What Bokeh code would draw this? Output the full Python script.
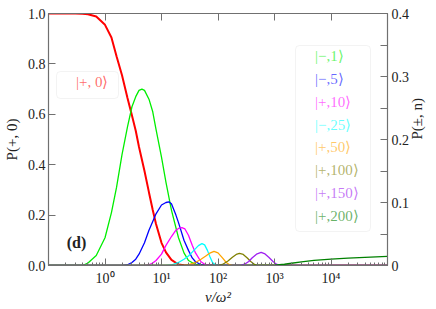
import math
from bokeh.plotting import figure
from bokeh.models import (Range1d, LinearAxis, LogAxis, FixedTicker, CustomJSTickFormatter,
                          Legend, LegendItem, Label, BoxAnnotation)
from bokeh.embed import file_html
from bokeh.resources import INLINE

FONT = "Liberation Serif"
AX = "#707070"
TXT = "#222222"

# ---------------- data ----------------
# P(+,0) on the left axis
x_red = [0.1, 0.2, 0.3, 0.4, 0.5, 0.7, 1.0, 1.3, 1.6, 2.0, 2.5, 3.0, 3.5, 4.0, 5.0, 6.0,
         7.0, 8.0, 10, 12, 15, 20, 25, 30, 1e5]
y_red = [1.0, 1.0, 1.0, 0.999, 0.997, 0.988, 0.955, 0.905, 0.83, 0.755, 0.665, 0.595, 0.535,
         0.47, 0.375, 0.29, 0.22, 0.165, 0.09, 0.052, 0.022, 0.004, 0.001, 0.0, 0.0]

# P(+-,n) on the right axis
x_m1 = [0.1, 0.4, 0.5, 0.7, 1.0, 1.3, 1.6, 2.0, 2.5, 3.0, 3.5, 4.0, 4.5, 5.0, 6.0, 7.0,
        8.0, 10, 12, 15, 20, 25, 30, 40, 50, 1e5]
y_m1 = [0, 0, 0.004, 0.016, 0.044, 0.084, 0.124, 0.176, 0.22, 0.252, 0.268, 0.278, 0.28,
        0.278, 0.264, 0.244, 0.216, 0.172, 0.132, 0.088, 0.044, 0.02, 0.008, 0.0016, 0, 0]

x_m5 = [0.1, 2, 2.5, 3, 3.5, 4, 5, 6, 7, 8, 10, 12, 13.5, 15, 18, 20, 25, 30, 35, 40, 50, 60, 1e5]
y_m5 = [0, 0, 0.0012, 0.0048, 0.01, 0.018, 0.036, 0.056, 0.07, 0.082, 0.096, 0.1, 0.101,
        0.098, 0.08, 0.068, 0.04, 0.024, 0.012, 0.006, 0.0012, 0, 0]

x_p10 = [0.1, 5, 6, 7, 8, 10, 12, 15, 18, 20, 23, 26, 30, 35, 40, 50, 60, 70, 1e5]
y_p10 = [0, 0, 0.0012, 0.004, 0.008, 0.018, 0.032, 0.046, 0.056, 0.0588, 0.06, 0.058,
         0.048, 0.032, 0.02, 0.006, 0.0012, 0, 0]

x_m25 = [0.1, 12, 15, 20, 25, 30, 35, 40, 45, 52, 58, 65, 72, 80, 90, 100, 1e5]
y_m25 = [0, 0, 0.0008, 0.0048, 0.01, 0.0152, 0.0212, 0.0268, 0.0316, 0.0348, 0.0328,
         0.024, 0.014, 0.0048, 0.0008, 0, 0]

x_p50 = [0.1, 25, 30, 40, 50, 60, 70, 85, 100, 120, 140, 160, 180, 1e5]
y_p50 = [0, 0, 0.0012, 0.0048, 0.01, 0.0148, 0.0192, 0.0224, 0.02, 0.012, 0.0048, 0.0012, 0, 0]

x_p100 = [0.1, 100, 120, 150, 180, 210, 240, 280, 330, 380, 450, 500, 1e5]
y_p100 = [0, 0, 0.0016, 0.0072, 0.0132, 0.0176, 0.0192, 0.0176, 0.012, 0.0064, 0.0012, 0, 0]

x_p150 = [0.1, 250, 300, 350, 400, 480, 580, 680, 800, 950, 1100, 1300, 1e5]
y_p150 = [0, 0, 0.0024, 0.0064, 0.012, 0.018, 0.0208, 0.0184, 0.0128, 0.006, 0.0016, 0, 0]

x_p200 = [0.1, 500, 1000, 1500, 2000, 3000, 5000, 10000, 20000, 50000, 100000]
y_p200 = [0, 0, 0.0004, 0.002, 0.0036, 0.0056, 0.008, 0.01, 0.0116, 0.0132, 0.0144]

labels = ["|\u2212,1\u27e9", "|\u2212,5\u27e9", "|+,10\u27e9", "|\u2212,25\u27e9", "|+,50\u27e9",
          "|+,100\u27e9", "|+,150\u27e9", "|+,200\u27e9"]
colors = ["#00ee00", "#0000ff", "#ff00ff", "#00ffff", "#ffa500", "#808000", "#a020f0", "#008000"]
xs_all = [x_m1, x_m5, x_p10, x_m25, x_p50, x_p100, x_p150, x_p200]
ys_all = [y_m1, y_m5, y_p10, y_m25, y_p50, y_p100, y_p150, y_p200]

x_ticks = [1, 10, 100, 1000, 10000]
x_minor = [m * 10.0 ** e for e in range(-1, 5) for m in range(2, 10)]
yl_ticks = [0, 0.2, 0.4, 0.6, 0.8, 1.0]
yr_ticks = [0, 0.1, 0.2, 0.3, 0.4]
yr_minor = [0.05, 0.15, 0.25, 0.35]

# ---------------- figure ----------------
p = figure(width=436, height=309, x_axis_type="log", x_range=Range1d(0.1, 1e5),
           y_range=Range1d(0, 1), output_backend="svg", toolbar_location=None,
           min_border_left=48, min_border_right=48, min_border_top=13, min_border_bottom=44)
p.extra_y_ranges = {"r": Range1d(0, 0.4)}
p.xgrid.visible = False
p.ygrid.visible = False
p.outline_line_color = AX
p.background_fill_color = "white"
p.border_fill_color = "white"


def style_axis(ax, label_size="14px"):
    ax.axis_line_color = AX
    ax.axis_line_width = 1.2
    ax.major_tick_line_color = AX
    ax.minor_tick_line_color = AX
    ax.major_tick_in = 7
    ax.major_tick_out = 0
    ax.minor_tick_in = 3
    ax.minor_tick_out = 0
    ax.major_label_text_font = FONT
    ax.major_label_text_font_size = label_size
    ax.major_label_text_color = TXT
    ax.axis_label_text_font = FONT
    ax.axis_label_text_font_size = "15px"
    ax.axis_label_text_color = TXT
    ax.axis_label_text_font_style = "normal"


# bottom axis
xa = p.xaxis[0]
style_axis(xa)
xa.ticker = FixedTicker(ticks=x_ticks, minor_ticks=x_minor)
xa.formatter = CustomJSTickFormatter(code="""
const sup = {"-":"\u207b","0":"\u2070","1":"\u00b9","2":"\u00b2","3":"\u00b3","4":"\u2074","5":"\u2075"};
const e = Math.round(Math.log10(tick));
return "10" + String(e).split("").map(c => sup[c]).join("");
""")
xa.major_label_standoff = 5
xa.axis_label = "v/\u03c9\u00b2"
xa.axis_label_text_font_style = "italic"
xa.axis_label_standoff = 0

# top axis (ticks only)
ta = LogAxis(ticker=FixedTicker(ticks=x_ticks))
style_axis(ta)
ta.minor_tick_line_color = None
ta.major_label_text_font_size = "1px"
ta.formatter = CustomJSTickFormatter(code="return '';")
ta.major_label_standoff = 0
p.add_layout(ta, "above")

# left axis
ya = p.yaxis[0]
style_axis(ya)
ya.ticker = FixedTicker(ticks=yl_ticks)
ya.minor_tick_line_color = None
ya.formatter = CustomJSTickFormatter(code="return tick.toFixed(1);")
ya.major_label_standoff = 3
ya.axis_label = "P(+, 0)"
ya.axis_label_standoff = 5

# right axis
ra = LinearAxis(y_range_name="r", ticker=FixedTicker(ticks=yr_ticks, minor_ticks=yr_minor))
style_axis(ra)
ra.minor_tick_in = 7
ra.formatter = CustomJSTickFormatter(code="return tick == 0 ? '0' : tick.toFixed(1);")
ra.major_label_standoff = 4
ra.axis_label = "P(\u00b1, n)"
ra.axis_label_standoff = 5
if "axis_label_orientation" in ra.properties():
    ra.axis_label_orientation = math.pi / 2
p.add_layout(ra, "right")

# curves
p.line(x_red, y_red, line_color="#ff0000", line_width=2)
for xs, ys, c in zip(xs_all, ys_all, colors):
    p.line(xs, ys, line_color=c, line_width=1.3, y_range_name="r")

# legend boxes
p.add_layout(BoxAnnotation(left=8, right=70, top=194, bottom=167,
                           left_units="screen", right_units="screen",
                           top_units="screen", bottom_units="screen",
                           fill_color="white", fill_alpha=0.85,
                           line_color="#d8d8d8", line_width=1, border_radius=4))
p.add_layout(BoxAnnotation(left=247, right=322, top=220, bottom=34,
                           left_units="screen", right_units="screen",
                           top_units="screen", bottom_units="screen",
                           fill_color="white", fill_alpha=0.85,
                           line_color="#d8d8d8", line_width=1, border_radius=4))


def add_legend(label, color, lx, cy):
    proxy = p.line(x=[], y=[], line_color=color, line_width=2)
    leg = Legend(items=[LegendItem(label=label, renderers=[proxy])],
                 location=(lx, cy - 8), padding=0, margin=0, spacing=0,
                 glyph_width=8, glyph_height=16, label_height=16, label_standoff=7,
                 label_text_font=FONT, label_text_font_size="15px",
                 label_text_color=color, label_text_alpha=0.6,
                 background_fill_alpha=0, border_line_alpha=0)
    p.add_layout(leg)


add_legend("|+, 0\u27e9", "#ff0000", 13, 182.5)
for i, (lab, c) in enumerate(zip(labels, colors)):
    add_legend(lab, c, 252, 265 - (57 + 22.86 * i))

p.add_layout(Label(x=28, y=23, x_units="screen", y_units="screen", text="(d)",
                   text_align="center", text_baseline="middle", text_font=FONT,
                   text_font_size="16px", text_font_style="bold", text_color=TXT))

open("out.html", "w").write(file_html(p, INLINE))
